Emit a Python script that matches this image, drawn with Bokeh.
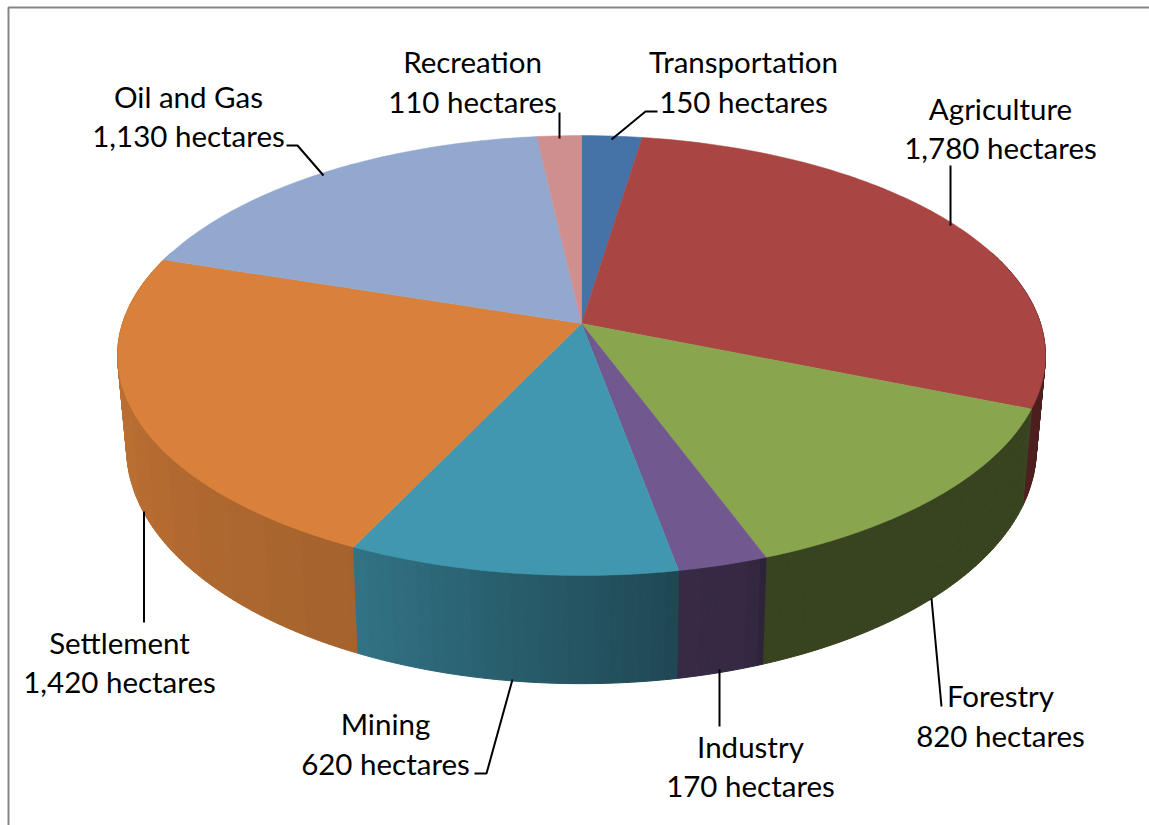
import numpy as np
from bokeh.embed import file_html
from bokeh.resources import INLINE
from bokeh.plotting import figure
from bokeh.models import Range1d
from bokeh.core.properties import value

# ---- data (clockwise from 12 o'clock) ----
categories = ["Transportation", "Agriculture", "Forestry", "Industry", "Mining", "Settlement", "Oil and Gas", "Recreation"]
hectares = [150, 1780, 820, 170, 620, 1420, 1130, 110]
value_labels = ["150 hectares", "1,780 hectares", "820 hectares", "170 hectares", "620 hectares", "1,420 hectares", "1,130 hectares", "110 hectares"]
top_colors = ["#4572A7", "#A94543", "#89A54E", "#71588F", "#4197AF", "#D9813B", "#93A8CF", "#CE8F8E"]

# ---- layout (page pixels) ----
W, H = 1149, 825
CX, CY = 581, 323
PERSP = 0.1455
TOP_X, TOP_Y = 459, 215.3
BOT_X, BOT_Y, BOT_Y0 = 450, 230, 414

label_pos = [(743, 61, 101), (1000, 108, 147), (1000, 695, 735), (750, 746, 785),
             (385, 723, 763), (119, 642, 681), (188, 96, 135), (472, 61, 101)]
leaders = [
    ([657, 645, 611], [111, 111, 139]),
    ([950, 950], [165, 225]),
    ([931, 941], [598, 706]),
    ([719, 719], [669, 726]),
    ([512, 486, 474], [679, 773, 773]),
    ([143.5, 143.5], [511, 622]),
    ([286, 297, 323], [145, 145, 175]),
    ([559, 559], [112, 138]),
]


def top_pt(t):
    u, v = np.sin(t), np.cos(t)
    k = 1 + PERSP * v
    return CX + TOP_X * u / k, CY - TOP_Y * v / k


def bot_pt(t):
    u, v = np.sin(t), np.cos(t)
    k = 1 + PERSP * v
    return CX + BOT_X * u / k, BOT_Y0 - BOT_Y * v / k


def shade(hex_color, f):
    r, g, b = (int(hex_color[i:i + 2], 16) for i in (1, 3, 5))
    return "#%02x%02x%02x" % (round(r * f), round(g * f), round(b * f))


p = figure(width=W, height=H, output_backend="svg", toolbar_location=None,
           x_range=Range1d(0, W), y_range=Range1d(H, 0),
           min_border=0, outline_line_color=None, background_fill_color="white")
p.axis.visible = False
p.grid.visible = False

# chart frame (top and left only are visible in the crop)
p.line([8, 8, W], [H, 7, 7], line_color="#868686", line_width=2)

# side wall strips, painted back to front
edges = np.concatenate([[0], np.cumsum(hectares)]) / sum(hectares) * 2 * np.pi
wall = []
for i in range(len(hectares)):
    n = max(2, int(np.degrees(edges[i + 1] - edges[i]) / 0.75))
    ts = np.linspace(edges[i], edges[i + 1], n + 1)
    for a, b in zip(ts[:-1], ts[1:]):
        mid = np.degrees((a + b) / 2)
        if not 70 < mid < 290:
            continue
        f = np.interp(mid, [90, 112, 113, 160, 161, 170, 205, 260, 288],
                      [.46, .46, .41, .41, .46, .48, .76, .87, .87])
        f = round(f / 0.012) * 0.012
        xa, ya = top_pt(a); xb, yb = top_pt(b)
        xc, yc = bot_pt(b); xd, yd = bot_pt(a)
        wall.append((abs(mid - 180), [xa, xb, xc, xd], [ya, yb, yc, yd], shade(top_colors[i], f)))
wall.sort(key=lambda s: -s[0])
p.patches([s[1] for s in wall], [s[2] for s in wall], fill_color=[s[3] for s in wall],
          line_color=[s[3] for s in wall], line_width=1)

# top face
xs, ys = [], []
for i in range(len(hectares)):
    ts = np.linspace(edges[i], edges[i + 1], max(4, int(np.degrees(edges[i + 1] - edges[i]))))
    px, py = top_pt(ts)
    xs.append([CX] + list(px))
    ys.append([CY] + list(py))
p.patches(xs, ys, fill_color=top_colors, line_color=top_colors, line_width=0.5)

# leader lines
for lx, ly in leaders:
    p.line(lx, ly, line_color="black", line_width=2)

# labels
FONT = value("Lato")
for name, val, (cx, y1, y2) in zip(categories, value_labels, label_pos):
    p.text([cx], [y1], text=[name], text_font=FONT, text_font_size="29.5px", text_color="black",
           text_align="center", text_baseline="alphabetic")
    p.text([cx], [y2], text=[val], text_font=FONT, text_font_size="29.5px", text_color="black",
           text_align="center", text_baseline="alphabetic")

open("out.html", "w").write(file_html(p, INLINE))
